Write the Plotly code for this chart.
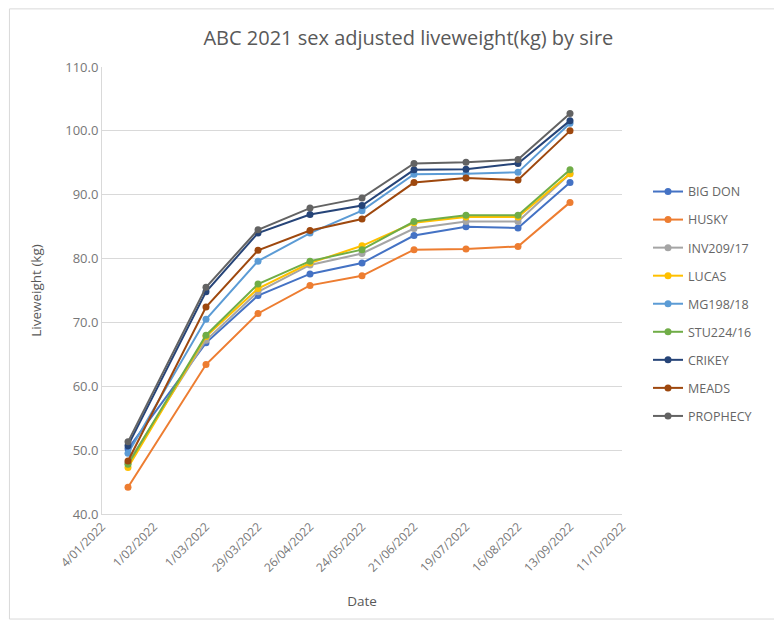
import plotly.graph_objects as go

dates = ["2022-01-18", "2022-03-01", "2022-03-29", "2022-04-26", "2022-05-24",
         "2022-06-21", "2022-07-19", "2022-08-16", "2022-09-13"]

sires = ["BIG DON", "HUSKY", "INV209/17", "LUCAS", "MG198/18", "STU224/16",
         "CRIKEY", "MEADS", "PROPHECY"]

big_don  = [50.2, 66.8, 74.2, 77.6, 79.3, 83.6, 85.0, 84.8, 91.9]
husky    = [44.2, 63.4, 71.4, 75.8, 77.3, 81.4, 81.5, 81.9, 88.8]
inv209   = [48.0, 67.2, 74.8, 79.0, 80.8, 84.7, 85.8, 85.8, 93.3]
lucas    = [47.3, 67.8, 75.3, 79.3, 82.0, 85.6, 86.5, 86.5, 93.3]
mg198    = [49.5, 70.5, 79.6, 84.0, 87.5, 93.2, 93.3, 93.5, 101.2]
stu224   = [47.8, 68.0, 76.0, 79.6, 81.4, 85.8, 86.8, 86.8, 93.9]
crikey   = [50.7, 74.8, 84.0, 86.9, 88.3, 93.9, 94.0, 94.9, 101.6]
meads    = [48.3, 72.4, 81.3, 84.4, 86.2, 91.9, 92.6, 92.3, 100.0]
prophecy = [51.3, 75.5, 84.5, 87.9, 89.5, 94.9, 95.1, 95.5, 102.7]

series = [big_don, husky, inv209, lucas, mg198, stu224, crikey, meads, prophecy]
colors = ["#4472C4", "#ED7D31", "#A5A5A5", "#FFC000", "#5B9BD5", "#70AD47",
          "#264478", "#9E480E", "#636363"]

x_tickvals = ["2022-01-04", "2022-02-01", "2022-03-01", "2022-03-29", "2022-04-26",
              "2022-05-24", "2022-06-21", "2022-07-19", "2022-08-16", "2022-09-13",
              "2022-10-11"]
x_ticktext = ["4/01/2022", "1/02/2022", "1/03/2022", "29/03/2022", "26/04/2022",
              "24/05/2022", "21/06/2022", "19/07/2022", "16/08/2022", "13/09/2022",
              "11/10/2022"]
y_tickvals = [40, 50, 60, 70, 80, 90, 100, 110]

fig = go.Figure()
for name, vals, col in zip(sires, series, colors):
    fig.add_trace(go.Scatter(
        x=dates, y=vals, name=name, mode="lines+markers",
        line=dict(color=col, width=2),
        marker=dict(color=col, size=7),
        legendgroup=name,
    ))

font_fam = "Open Sans, Liberation Sans, sans-serif"
fig.update_layout(
    width=782, height=627,
    margin=dict(l=94, r=168, t=59, b=121, autoexpand=False),
    paper_bgcolor="white", plot_bgcolor="white",
    font=dict(family=font_fam, color="#595959", size=12),
    title=dict(text="ABC 2021 sex adjusted liveweight(kg) by sire",
               x=0.512, xanchor="center", y=0.952, yanchor="middle",
               font=dict(size=20, color="#595959", family=font_fam)),
    legend=dict(x=1.05, xanchor="left", y=0.47, yanchor="middle",
                tracegroupgap=8.8, font=dict(size=12.5, color="#666666"),
                bgcolor="rgba(0,0,0,0)"),
    xaxis=dict(
        type="date", range=["2022-01-04", "2022-10-11"], automargin=False,
        tickvals=x_tickvals, ticktext=x_ticktext, tickangle=-45,
        showgrid=False, showline=True, linecolor="#D9D9D9", linewidth=1,
        ticks="", tickfont=dict(size=12, color="#777777"),
        title=dict(text="Date", font=dict(size=13.5, color="#595959"), standoff=22),
        zeroline=False,
    ),
    yaxis=dict(
        range=[40, 110], tickvals=y_tickvals, tickformat=".1f", automargin=False,
        showgrid=True, gridcolor="#D9D9D9", gridwidth=1,
        showline=True, linecolor="#D9D9D9", linewidth=1,
        ticks="", tickfont=dict(size=13, color="#777777"),
        title=dict(text="Liveweight (kg)", font=dict(size=13.5, color="#595959"), standoff=20),
        zeroline=False,
    ),
)

fig.add_shape(type="rect", xref="paper", yref="paper",
              x0=-0.178, x1=1.3, y0=-0.235, y1=1.13,
              line=dict(color="#D9D9D9", width=1), layer="below")

fig.write_html("out.html")
